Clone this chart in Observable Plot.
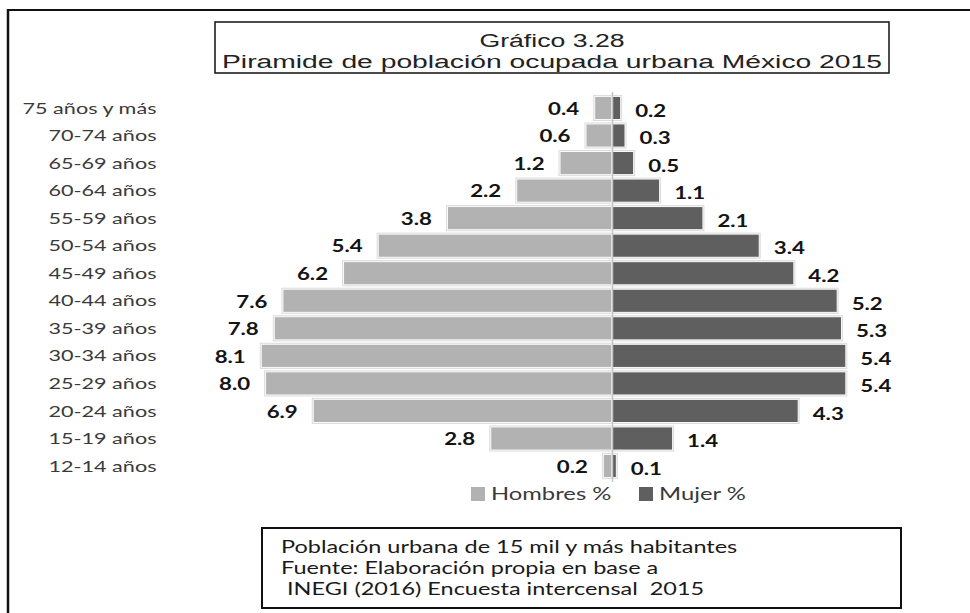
<!DOCTYPE html>
<html>
<head>
<meta charset="utf-8">
<script src="https://cdn.jsdelivr.net/npm/d3@7"></script>
<script src="https://cdn.jsdelivr.net/npm/@observablehq/plot@0.6"></script>
<style>
  html, body { margin: 0; padding: 0; background: #fff; }
  #wrap { position: relative; width: 970px; height: 613px; overflow: hidden; background: #fff; }
  #chart { position: absolute; left: 0; top: 0; }
  #overlay { position: absolute; left: 0; top: 0; }
</style>
</head>
<body>
<div id="wrap">
  <div id="chart"></div>
  <svg id="overlay" width="970" height="613"></svg>
</div>
<script>
// ---- data ----
const ages = ["75 años y más", "70-74 años", "65-69 años", "60-64 años", "55-59 años", "50-54 años",
  "45-49 años", "40-44 años", "35-39 años", "30-34 años", "25-29 años", "20-24 años", "15-19 años", "12-14 años"];
const hombres = [0.4, 0.6, 1.2, 2.2, 3.8, 5.4, 6.2, 7.6, 7.8, 8.1, 8.0, 6.9, 2.8, 0.2];
const mujeres = [0.2, 0.3, 0.5, 1.1, 2.1, 3.4, 4.2, 5.2, 5.3, 5.4, 5.4, 4.3, 1.4, 0.1];
const seriesNames = ["Hombres %", "Mujer %"];
const titleLines = ["Gráfico 3.28", "Piramide de población ocupada urbana México 2015"];
const captionLines = ["Población urbana de 15 mil y más habitantes", "Fuente: Elaboración propia en base a", " INEGI (2016) Encuesta intercensal  2015"];

const rows = ages.map((age, i) => ({age, h: hombres[i], m: mujeres[i]}));
const colH = "#b2b2b2", colM = "#5f5f5f";

const chart = Plot.plot({
  width: 970,
  height: 500,
  marginLeft: 179,
  marginRight: 11.6,
  marginTop: 92,
  marginBottom: 18,
  x: {domain: [-10, 8], axis: null},
  y: {domain: ages, padding: 0.16, round: false, label: null, tickSize: 0, tickPadding: 23},
  style: {fontFamily: "Lato", fontSize: "16px", color: "#3a3a3a", background: "transparent", overflow: "visible"},
  marks: [
    Plot.barX(rows, {y: "age", x1: d => -d.h, x2: () => 0, fill: "#dcdcdc", insetTop: -1.5, insetBottom: -1.5, insetLeft: -1.5, insetRight: 0}),
    Plot.barX(rows, {y: "age", x1: () => 0, x2: d => d.m, fill: "#dcdcdc", insetTop: -1.5, insetBottom: -1.5, insetLeft: 0, insetRight: -1.5}),
    Plot.barX(rows, {y: "age", x1: d => -d.h, x2: () => 0, fill: colH, stroke: "#fafafa", strokeWidth: 1}),
    Plot.barX(rows, {y: "age", x1: () => 0, x2: d => d.m, fill: colM, stroke: "#fafafa", strokeWidth: 1}),
    Plot.ruleX([0], {stroke: "#c4c4c4", strokeWidth: 1.5}),
    Plot.text(rows, {x: d => -d.h, y: "age", text: d => d.h.toFixed(1), textAnchor: "end", dx: -16, dy: 1,
      fontWeight: "bold", fontSize: 16.5, fill: "#141414"}),
    Plot.text(rows, {x: d => d.m, y: "age", text: d => d.m.toFixed(1), textAnchor: "start", dx: 14, dy: 3,
      fontWeight: "bold", fontSize: 16.5, fill: "#141414"})
  ]
});
document.getElementById("chart").append(chart);

function stretch(root, k) {
  root.querySelectorAll("text").forEach(t => {
    const L = t.getComputedTextLength();
    if (L > 0) {
      t.setAttribute("textLength", (L * k).toFixed(1));
      t.setAttribute("lengthAdjust", "spacingAndGlyphs");
    }
  });
}
stretch(chart, 1.35);

// ---- overlay: frame, title box, legend, caption box ----
const ov = d3.select("#overlay");
// outer frame (top and left)
ov.append("line").attr("x1", 8).attr("x2", 970).attr("y1", 10).attr("y2", 10).attr("stroke", "#111").attr("stroke-width", 2);
ov.append("line").attr("x1", 8).attr("x2", 8).attr("y1", 9).attr("y2", 613).attr("stroke", "#111").attr("stroke-width", 2.5);

// title box
ov.append("rect").attr("x", 215).attr("y", 22).attr("width", 674).attr("height", 51)
  .attr("fill", "none").attr("stroke", "#111").attr("stroke-width", 1.5);
const tl = ov.append("g").attr("font-family", "Liberation Sans, Arial, sans-serif").attr("font-size", 18).attr("fill", "#222").attr("text-anchor", "middle");
tl.append("text").attr("x", 552).attr("y", 47).text(titleLines[0]).attr("textLength", 145).attr("lengthAdjust", "spacingAndGlyphs");
tl.append("text").attr("x", 552).attr("y", 68).text(titleLines[1]).attr("textLength", 660).attr("lengthAdjust", "spacingAndGlyphs");

// legend
const lg = ov.append("g").attr("font-family", "Lato, sans-serif").attr("font-size", 17).attr("fill", "#3a3a3a");
lg.append("rect").attr("x", 471).attr("y", 487).attr("width", 14).attr("height", 14).attr("fill", colH);
lg.append("text").attr("x", 491).attr("y", 500).text(seriesNames[0]).attr("class", "lgt");
lg.append("rect").attr("x", 639).attr("y", 487).attr("width", 14).attr("height", 14).attr("fill", colM);
lg.append("text").attr("x", 659).attr("y", 500).text(seriesNames[1]).attr("class", "lgt");

// caption box
ov.append("rect").attr("x", 262).attr("y", 528).attr("width", 639).attr("height", 80)
  .attr("fill", "none").attr("stroke", "#111").attr("stroke-width", 2);
const cp = ov.append("g").attr("font-family", "Lato, sans-serif").attr("font-size", 17).attr("fill", "#1a1a1a");
captionLines.forEach((s, i) => {
  cp.append("text").attr("x", 281).attr("y", 553 + i * 21).attr("xml:space", "preserve").style("white-space", "pre").text(s).attr("class", "cpt");
});
function stretchSel(sel, k) {
  ov.selectAll(sel).each(function() {
    const L = this.getComputedTextLength();
    this.setAttribute("textLength", (L * k).toFixed(1));
    this.setAttribute("lengthAdjust", "spacingAndGlyphs");
  });
}
stretchSel("text.lgt", 1.4);
stretchSel("text.cpt", 1.38);
</script>
</body>
</html>
